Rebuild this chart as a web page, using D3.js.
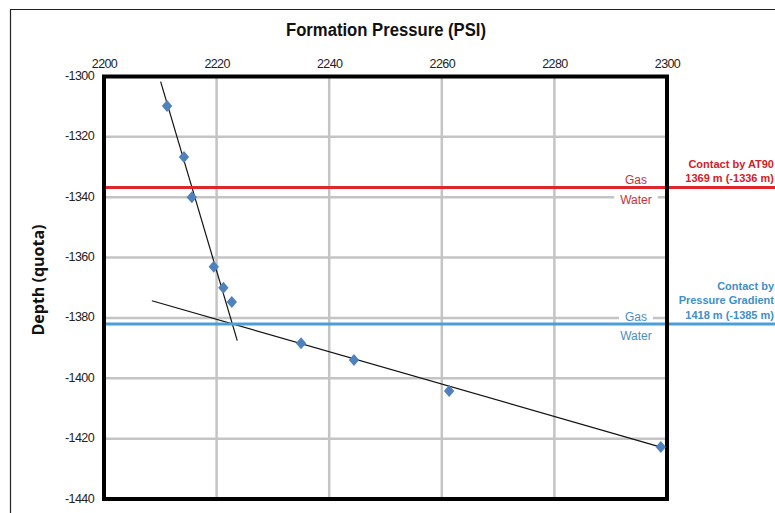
<!DOCTYPE html>
<html><head><meta charset="utf-8">
<script src="https://cdn.jsdelivr.net/npm/d3@7"></script>
<style>body{margin:0;background:#fff;} svg{display:block;}</style>
</head><body>
<script>
// Data
const pressure = [2211.2, 2214.2, 2215.6, 2219.5, 2221.2, 2222.7, 2235.0, 2244.4, 2261.3, 2298.9];
const depth    = [-1309.8, -1326.7, -1340.0, -1363.0, -1370.0, -1374.7, -1388.4, -1393.9, -1404.2, -1422.8];
const gasTrend   = [[2210.06, -1301.7], [2223.67, -1387.5]];
const waterTrend = [[2208.5, -1374.3], [2298.9, -1422.8]];
const xTicks = [2200, 2220, 2240, 2260, 2280, 2300];
const yTicks = [-1300, -1320, -1340, -1360, -1380, -1400, -1420, -1440];
const contactAT90 = -1336.8;
const contactGradient = -1382.0;
const at90Lines = ["Contact by AT90", "1369 m (-1336 m)"];
const gradLines = ["Contact by", "Pressure Gradient", "1418 m (-1385 m)"];

const W = 775, H = 513;
const svg = d3.select("body").append("svg").attr("width", W).attr("height", H);
const L = 104, R = 667, T = 76.5, B = 499;
const x = d3.scaleLinear().domain([2200, 2300]).range([L, R]);
const y = d3.scaleLinear().domain([-1300, -1440]).range([T, B]);
const sans = "'Liberation Sans',Arial,sans-serif";

// outer frame
svg.append("path").attr("d", `M10.5,${H+5} V9.5 H${W+5}`).attr("fill","none").attr("stroke","#222").attr("stroke-width",1.2);

// title
svg.append("text").attr("x", 386).attr("y", 36).attr("text-anchor","middle")
  .attr("font-family", sans).attr("font-weight","bold").attr("font-size",17.5).attr("fill","#111")
  .attr("textLength", 200).attr("lengthAdjust","spacingAndGlyphs")
  .text("Formation Pressure (PSI)");

// y title
svg.append("text").attr("transform","translate(44,280) rotate(-90)").attr("text-anchor","middle")
  .attr("font-family","'Open Sans','Liberation Sans',Arial,sans-serif").attr("font-weight","bold").attr("font-size",16).attr("fill","#111")
  .text("Depth (quota)");

// gridlines
const grid = svg.append("g");
grid.selectAll("line.v").data(xTicks.slice(1,-1)).join("line")
  .attr("x1", d=>x(d)).attr("x2", d=>x(d)).attr("y1", T).attr("y2", B)
  .attr("stroke","#c4c4c4").attr("stroke-width",2.5);
grid.selectAll("line.h").data(yTicks.slice(1,-1)).join("line")
  .attr("x1", L).attr("x2", R).attr("y1", d=>y(d)).attr("y2", d=>y(d))
  .attr("stroke","#c4c4c4").attr("stroke-width",2.5);

// axes (labels only)
const fmt = d => String(d);
const xAxis = d3.axisTop(x).tickValues(xTicks).tickSize(0).tickPadding(0).tickFormat(fmt);
const gx = svg.append("g").attr("transform",`translate(0,${T-9})`).call(xAxis);
gx.select(".domain").remove();
gx.selectAll("text").attr("font-family",sans).attr("font-size",12.5).attr("letter-spacing",-0.6).attr("fill","#222");

const yAxis = d3.axisLeft(y).tickValues(yTicks).tickSize(0).tickPadding(0).tickFormat(fmt);
const gy = svg.append("g").attr("transform",`translate(${L-10},-1)`).call(yAxis);
gy.select(".domain").remove();
gy.selectAll("text").attr("font-family",sans).attr("font-size",12.5).attr("letter-spacing",-0.6).attr("fill","#222");

// trend lines
const line = d3.line().x(d=>x(d[0])).y(d=>y(d[1]));
svg.append("path").attr("d", line(gasTrend)).attr("stroke","#111").attr("stroke-width",1.2).attr("fill","none");
svg.append("path").attr("d", line(waterTrend)).attr("stroke","#111").attr("stroke-width",1.2).attr("fill","none");

// Gas/Water labels
function label(txt, yy, color){
  const g = svg.append("g");
  const t = g.append("text").attr("x", 636).attr("y", yy).attr("text-anchor","middle").attr("dominant-baseline","central")
    .attr("font-family",sans).attr("font-size",12).attr("fill",color).text(txt);
  const bb = t.node().getBBox();
  g.insert("rect","text").attr("x", bb.x-6).attr("y", bb.y+2).attr("width", bb.width+12).attr("height", bb.height-4).attr("fill","#fff");
}
label("Gas", y(contactAT90)-8, "#c8313a");
label("Water", y(contactAT90)+12, "#c8313a");
label("Gas", y(contactGradient)-7, "#4a8ec4");
label("Water", y(contactGradient)+12, "#4a8ec4");

// contact lines
svg.append("line").attr("x1", L).attr("x2", W).attr("y1", y(contactAT90)).attr("y2", y(contactAT90))
  .attr("stroke","#e0262d").attr("stroke-width",3);
svg.append("line").attr("x1", L).attr("x2", W).attr("y1", y(contactGradient)).attr("y2", y(contactGradient))
  .attr("stroke","#4a9fd8").attr("stroke-width",3);

// plot border
svg.append("rect").attr("x", L).attr("y", T).attr("width", R-L).attr("height", B-T)
  .attr("fill","none").attr("stroke","#000").attr("stroke-width",4);

// points (diamond ~10 wide x 12 tall)
const diamond = { draw(ctx, size){ const w = 5.2, h = 6; ctx.moveTo(0,-h); ctx.lineTo(w,0); ctx.lineTo(0,h); ctx.lineTo(-w,0); ctx.closePath(); } };
svg.append("g").selectAll("path").data(pressure.map((p,i)=>[p, depth[i]])).join("path")
  .attr("transform", d=>`translate(${x(d[0])},${y(d[1])})`)
  .attr("d", d3.symbol(diamond, 60))
  .attr("fill","#4f81bd");

// annotations
const ann = (lines, yStart, color) => {
  const t = svg.append("text").attr("text-anchor","end").attr("font-family",sans)
    .attr("font-weight","bold").attr("font-size",11).attr("fill",color);
  lines.forEach((s,i)=> t.append("tspan").attr("x", 774).attr("y", yStart + i*14.3).text(s));
};
ann(at90Lines, 167.5, "#d42028");
ann(gradLines, 290, "#3f8fc8");
</script>
</body></html>
